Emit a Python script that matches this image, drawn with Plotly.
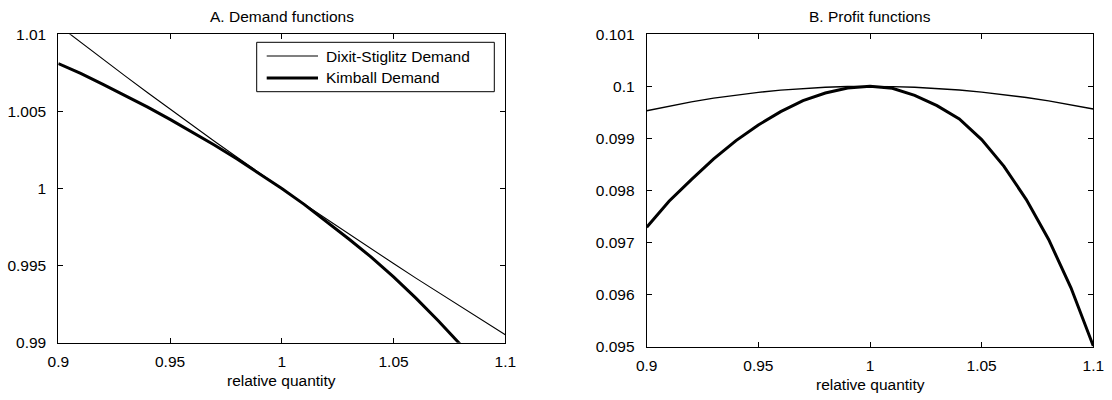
import plotly.graph_objects as go

# relative quantity
q = [0.90, 0.91, 0.92, 0.93, 0.94, 0.95, 0.96, 0.97, 0.98, 0.99, 1.00,
     1.01, 1.02, 1.03, 1.04, 1.05, 1.06, 1.07, 1.08, 1.09, 1.10]

# Panel A: demand functions (relative price)
ds_demand = [1.010590, 1.009476, 1.008373, 1.007284, 1.006207, 1.005142, 1.004091,
             1.003051, 1.002022, 1.001006, 1.000000, 0.999005, 0.998022, 0.997049,
             0.996086, 0.995133, 0.994190, 0.993257, 0.992334, 0.991420, 0.990514]
kimball_demand = [1.008106, 1.007466, 1.006750, 1.006028, 1.005274, 1.004482, 1.003660,
                  1.002809, 1.001910, 1.000978, 1.000000, 0.998972, 0.997870, 0.996727,
                  0.995551, 0.994264, 0.992892, 0.991426, 0.989869, 0.988194, 0.986375]

# Panel B: profit functions
ds_profit = [0.099531, 0.099623, 0.099703, 0.099774, 0.099835, 0.099885, 0.099927,
             0.099959, 0.099982, 0.099996, 0.100000, 0.099995, 0.099982, 0.099960,
             0.099929, 0.099890, 0.099841, 0.099785, 0.099721, 0.099648, 0.099565]
kimball_profit = [0.097295, 0.097794, 0.098210, 0.098606, 0.098958, 0.099258, 0.099514,
                  0.099725, 0.099872, 0.099968, 0.100000, 0.099962, 0.099827, 0.099629,
                  0.099373, 0.098977, 0.098465, 0.097826, 0.097059, 0.096132, 0.095013]

series_names = ["Dixit-Stiglitz Demand", "Kimball Demand"]

x_ticks = [0.9, 0.95, 1, 1.05, 1.1]
x_ticktext = ["0.9", "0.95", "1", "1.05", "1.1"]
ya_ticks = [0.99, 0.995, 1, 1.005, 1.01]
ya_ticktext = ["0.99", "0.995", "1", "1.005", "1.01"]
yb_ticks = [0.095, 0.096, 0.097, 0.098, 0.099, 0.1, 0.101]
yb_ticktext = ["0.095", "0.096", "0.097", "0.098", "0.099", "0.1", "0.101"]

FONT = "Liberation Sans, Arial, Helvetica, sans-serif"
FS = 15.5
W, H = 1112, 400
THIN, THICK = 1.1, 3

fig = go.Figure()
fig.add_trace(go.Scatter(x=q, y=ds_demand, mode="lines", name=series_names[0],
                         line=dict(color="black", width=THIN), xaxis="x", yaxis="y"))
fig.add_trace(go.Scatter(x=q, y=kimball_demand, mode="lines", name=series_names[1],
                         line=dict(color="black", width=THICK), xaxis="x", yaxis="y"))
fig.add_trace(go.Scatter(x=q, y=ds_profit, mode="lines", name=series_names[0],
                         line=dict(color="black", width=THIN + 0.3), xaxis="x2", yaxis="y2"))
fig.add_trace(go.Scatter(x=q, y=kimball_profit, mode="lines", name=series_names[1],
                         line=dict(color="black", width=THICK), xaxis="x2", yaxis="y2"))

axis_common = dict(showgrid=False, zeroline=False, showline=True, linecolor="black",
                   linewidth=1, mirror="ticks", ticks="inside", ticklen=5,
                   tickcolor="black", tickwidth=1, automargin=False,
                   tickfont=dict(family=FONT, size=FS, color="black"))

# pixel boxes of the two plot areas
A = dict(l=58.3, r=505.3, t=34.3, b=342.7)
B = dict(l=646.7, r=1093.3, t=34.3, b=346.7)


def px(x):
    return x / W


def py(y):
    return (H - y) / H


def dom_x(p):
    return [px(p["l"]), px(p["r"])]


def dom_y(p):
    return [py(p["b"]), py(p["t"])]


fig.update_layout(
    width=W, height=H,
    margin=dict(l=0, r=0, t=0, b=0, autoexpand=False),
    paper_bgcolor="white", plot_bgcolor="white",
    font=dict(family=FONT, size=FS, color="black"),
    showlegend=False,
    xaxis=dict(domain=dom_x(A), range=[0.9, 1.1], tickvals=x_ticks, ticktext=x_ticktext,
               anchor="y", ticklabelstandoff=5, **axis_common),
    yaxis=dict(domain=dom_y(A), range=[0.99, 1.01], tickvals=ya_ticks, ticktext=ya_ticktext,
               anchor="x", ticklabelstandoff=8, **axis_common),
    xaxis2=dict(domain=dom_x(B), range=[0.9, 1.1], tickvals=x_ticks, ticktext=x_ticktext,
                anchor="y2", ticklabelstandoff=5, **axis_common),
    yaxis2=dict(domain=dom_y(B), range=[0.095, 0.101], tickvals=yb_ticks, ticktext=yb_ticktext,
                anchor="x2", ticklabelstandoff=8, **axis_common),
)

# titles and axis labels
annotations = [
    dict(text="A. Demand functions", x=px((A["l"] + A["r"]) / 2), y=py(16)),
    dict(text="B. Profit functions", x=px((B["l"] + B["r"]) / 2), y=py(16)),
    dict(text="relative quantity", x=px((A["l"] + A["r"]) / 2), y=py(380)),
    dict(text="relative quantity", x=px((B["l"] + B["r"]) / 2), y=py(384)),
]
for a in annotations:
    fig.add_annotation(xref="paper", yref="paper", showarrow=False,
                       xanchor="center", yanchor="middle",
                       font=dict(family=FONT, size=FS, color="black"), **a)

# legend box (drawn like the MATLAB legend)
fig.add_shape(type="rect", xref="paper", yref="paper",
              x0=px(256.7), x1=px(494.3), y0=py(91.7), y1=py(42.3),
              line=dict(color="black", width=1), fillcolor="white", layer="below")
for i, (name, w) in enumerate(zip(series_names, [THIN, THICK])):
    yy = 56 + 22 * i
    fig.add_shape(type="line", xref="paper", yref="paper",
                  x0=px(266.7), x1=px(318), y0=py(yy), y1=py(yy),
                  line=dict(color="black", width=w))
    fig.add_annotation(xref="paper", yref="paper", showarrow=False,
                       x=px(324), y=py(yy), xanchor="left", yanchor="middle",
                       text=name, font=dict(family=FONT, size=FS, color="black"))

# remove the browser's default page margin so the figure sits at (0, 0)
fig.write_html("out.html",
               config={"displayModeBar": False, "staticPlot": True},
               post_script="document.body.style.margin='0';document.body.style.overflow='hidden';")
